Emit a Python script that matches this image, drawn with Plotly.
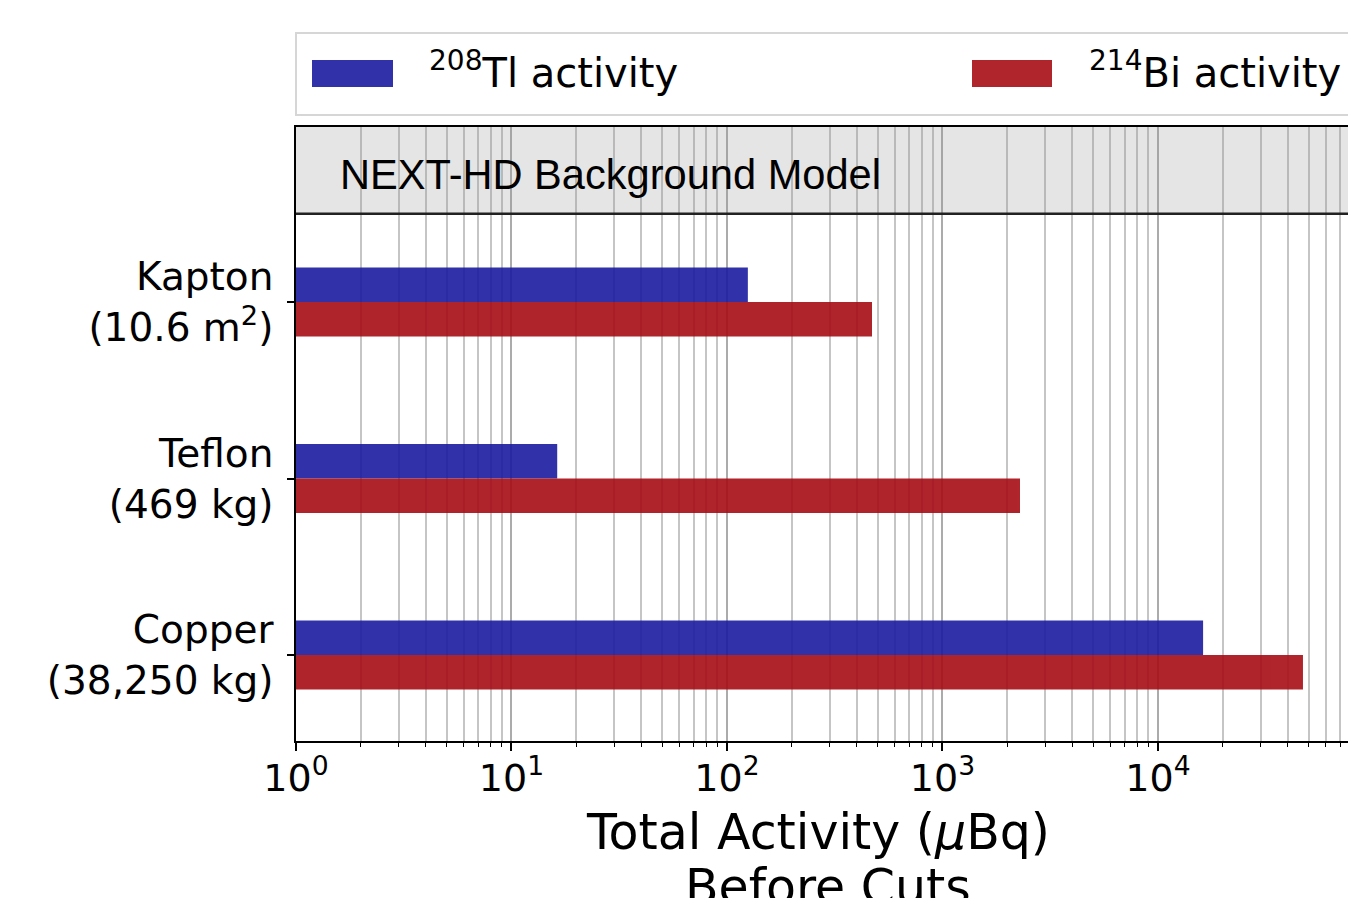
import plotly.graph_objects as go

# Materials (top to bottom) and their total activities in µBq
materials = ["Kapton<br>(10.6 m<sup>2</sup>)", "Teflon<br>(469 kg)", "Copper<br>(38,250 kg)"]
tl208_activity = [125, 16.3, 16200]
bi214_activity = [471, 2290, 47100]

x_tickvals = [1, 10, 100, 1000, 10000]
x_ticktext = ["10<sup>0</sup>", "10<sup>1</sup>", "10<sup>2</sup>", "10<sup>3</sup>", "10<sup>4</sup>"]

BLUE = "rgb(27,27,161)"
RED = "rgb(167,12,21)"
FONT = "DejaVu Sans"

# pixel geometry of the plotting area
L, R, T, B, W, H = 296, 1348, 127, 741, 1348, 898


def px_x(px):
    return (px - L) / (R - L)


def px_y(py):
    return (B - py) / (B - T)


fig = go.Figure()
fig.add_trace(go.Bar(y=materials, x=tl208_activity, orientation="h",
                     marker=dict(color=BLUE, line=dict(width=0)), opacity=0.9,
                     name="208Tl activity", showlegend=False))
fig.add_trace(go.Bar(y=materials, x=bi214_activity, orientation="h",
                     marker=dict(color=RED, line=dict(width=0)), opacity=0.9,
                     name="214Bi activity", showlegend=False))

grid_col = "rgba(150,150,150,0.55)"
fig.update_layout(
    width=W, height=H,
    margin=dict(l=L, r=W - R, t=T, b=H - B),
    paper_bgcolor="white", plot_bgcolor="white",
    barmode="group", bargap=0.61, bargroupgap=0,
    font=dict(family=FONT, color="black"),
    xaxis=dict(
        type="log", range=[0, 4.882], automargin=False,
        tickmode="array", tickvals=x_tickvals, ticktext=x_ticktext,
        tickfont=dict(size=38, family=FONT),
        ticks="outside", ticklen=8, tickwidth=1.5, tickcolor="black",
        ticklabelstandoff=-5,
        showline=True, linecolor="black", linewidth=1.5, mirror=True,
        showgrid=True, gridcolor=grid_col, gridwidth=1.5,
        minor=dict(dtick="D1", ticks="outside", ticklen=4, tickwidth=1.2,
                   tickcolor="black", showgrid=True, gridcolor=grid_col, gridwidth=1.5),
        zeroline=False,
    ),
    yaxis=dict(
        range=[2.487, -0.9915], automargin=False,
        tickfont=dict(size=39, family=FONT),
        ticks="outside", ticklen=7, tickwidth=1.5, tickcolor="black",
        showline=True, linecolor="black", linewidth=1.5,
        showgrid=False, zeroline=False, ticklabelstandoff=6,
    ),
)

# x-axis title, two lines
fig.add_annotation(text="Total Activity (<i>μ</i>Bq)", xref="paper", yref="paper",
                   x=px_x(818), y=px_y(832), xanchor="center", yanchor="middle", showarrow=False,
                   font=dict(family=FONT, size=49, color="black"))
fig.add_annotation(text="Before Cuts", xref="paper", yref="paper",
                   x=px_x(828), y=px_y(887), xanchor="center", yanchor="middle", showarrow=False,
                   font=dict(family=FONT, size=49, color="black"))

# Header strip with the model name
fig.add_shape(type="rect", xref="x domain", yref="y", x0=0, x1=1, y0=-0.5, y1=-1.0,
              fillcolor="#e5e5e5", line=dict(width=0), layer="below")
fig.add_shape(type="line", xref="x domain", yref="y", x0=0, x1=1, y0=-0.5, y1=-0.5,
              line=dict(color="#222222", width=2.5))
fig.add_annotation(text="NEXT-HD Background Model", xref="paper", yref="paper",
                   x=px_x(338), y=px_y(174), xanchor="left", yanchor="middle", showarrow=False,
                   font=dict(family="Liberation Sans", size=41.6, color="black"))

# Legend box
fig.add_shape(type="rect", xref="paper", yref="paper", x0=0, x1=1.02,
              y0=px_y(115), y1=px_y(33),
              line=dict(color="#d6d6d6", width=2), fillcolor="white", layer="above")
legend_items = [("<sup>208</sup>Tl activity", BLUE, 312, 393, 427),
                ("<sup>214</sup>Bi activity", RED, 972, 1052, 1087)]
for label, col, px0, px1, tx in legend_items:
    fig.add_shape(type="rect", xref="paper", yref="paper",
                  x0=px_x(px0), x1=px_x(px1), y0=px_y(87), y1=px_y(60),
                  fillcolor=col, opacity=0.9, line=dict(width=0), layer="above")
    fig.add_annotation(text=label, xref="paper", yref="paper",
                       x=px_x(tx), y=px_y(70),
                       xanchor="left", yanchor="middle", showarrow=False,
                       font=dict(family=FONT, size=40, color="black"))

fig.write_html("out.html")
